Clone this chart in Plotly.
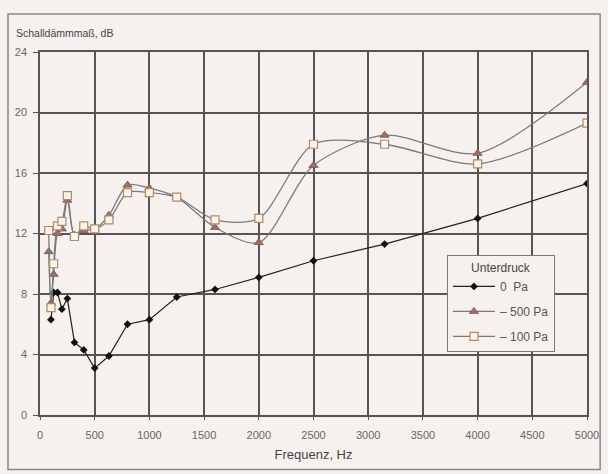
import plotly.graph_objects as go

freq_0 = [100, 125, 160, 200, 250, 315, 400, 500, 630, 800, 1000, 1250, 1600, 2000, 2500, 3150, 4000, 5000]
val_0 = [6.3, 8.1, 8.1, 7.0, 7.7, 4.8, 4.3, 3.1, 3.9, 6.0, 6.3, 7.8, 8.3, 9.1, 10.2, 11.3, 13.0, 15.3]

freq_v = [80, 100, 125, 160, 200, 250, 315, 400, 500, 630, 800, 1000, 1250, 1600, 2000, 2500, 3150, 4000, 5000]
val_500 = [10.8, 7.4, 9.3, 12.0, 12.3, 14.2, 11.9, 12.2, 12.3, 13.2, 15.2, 15.0, 14.4, 12.4, 11.4, 16.5, 18.5, 17.3, 22.0]
val_100 = [12.2, 7.1, 10.0, 12.5, 12.8, 14.5, 11.8, 12.5, 12.3, 12.9, 14.7, 14.7, 14.4, 12.9, 13.0, 17.9, 17.9, 16.6, 19.3]

x_ticks = [0, 500, 1000, 1500, 2000, 2500, 3000, 3500, 4000, 4500, 5000]
y_ticks = [0, 4, 8, 12, 16, 20, 24]

names = ["0  Pa", "\u2013 500 Pa", "\u2013 100 Pa"]

bg = "#f6f1ef"
grid = "#555555"

fig = go.Figure()
fig.add_trace(go.Scatter(
    x=freq_0, y=val_0, mode="lines+markers", name=names[0], legendgroup="a",
    line=dict(color="#222222", width=1.2),
    marker=dict(symbol="diamond", size=6, color="#111111"),
))
fig.add_trace(go.Scatter(
    x=freq_v, y=val_500, mode="lines+markers", name=names[1], legendgroup="b",
    line=dict(color="#7a7a7a", width=1.3, shape="spline", smoothing=0.8),
    marker=dict(symbol="triangle-up", size=8, color="#a86a5e",
                line=dict(color="#6e5a55", width=0.8)),
))
fig.add_trace(go.Scatter(
    x=freq_v, y=val_100, mode="lines+markers", name=names[2], legendgroup="c",
    line=dict(color="#7a7a7a", width=1.3, shape="spline", smoothing=0.8),
    marker=dict(symbol="square", size=8, color="#fbf3ea",
                line=dict(color="#b08a68", width=1.2)),
))

fig.update_layout(
    width=608, height=474,
    margin=dict(l=40, r=21, t=52, b=59, autoexpand=False),
    paper_bgcolor=bg, plot_bgcolor=bg,
    font=dict(family="Liberation Sans, Arial, sans-serif", size=10, color="#555555"),
    showlegend=True,
    legend=dict(
        title=dict(text="Unterdruck", side="top center", font=dict(size=12, color="#444444")),
        x=0.744, y=0.44, xanchor="left", yanchor="top",
        bgcolor=bg, bordercolor="#777777", borderwidth=1,
        font=dict(size=12, color="#555555"),
        itemwidth=42, tracegroupgap=6,
    ),
    xaxis=dict(
        range=[0, 5000], tickvals=x_ticks, ticktext=[str(v) for v in x_ticks],
        showgrid=True, gridcolor=grid, gridwidth=1.5, automargin=False,
        zeroline=False, showline=True, linecolor=grid, linewidth=1.5, mirror=True,
        ticks="outside", ticklen=3, tickcolor=grid, ticklabelstandoff=6,
        tickfont=dict(size=11, color="#666666"),
        title=dict(text="Frequenz, Hz", font=dict(size=13, color="#444444"), standoff=10),
    ),
    yaxis=dict(
        range=[0, 24], tickvals=y_ticks, ticktext=[str(v) for v in y_ticks],
        showgrid=True, gridcolor=grid, gridwidth=1.5, automargin=False,
        zeroline=False, showline=True, linecolor=grid, linewidth=1.5, mirror=True,
        ticks="outside", ticklen=5, tickcolor=grid, ticklabelstandoff=4,
        tickfont=dict(size=11, color="#666666"),
    ),
    annotations=[dict(
        text="Schalldämmmaß, dB", xref="paper", yref="paper",
        x=-0.048, y=1.03, xanchor="left", yanchor="bottom", showarrow=False,
        font=dict(size=10.5, color="#444444"),
    )],
    shapes=[dict(
        type="rect", xref="paper", yref="paper",
        x0=-0.0585, x1=1.024, y0=-0.15, y1=1.105,
        line=dict(color="#888888", width=1.5), fillcolor="rgba(0,0,0,0)", layer="below",
    )],
)

fig.write_html("out.html", config={"displayModeBar": False},
               post_script="document.body.style.margin='0';")
